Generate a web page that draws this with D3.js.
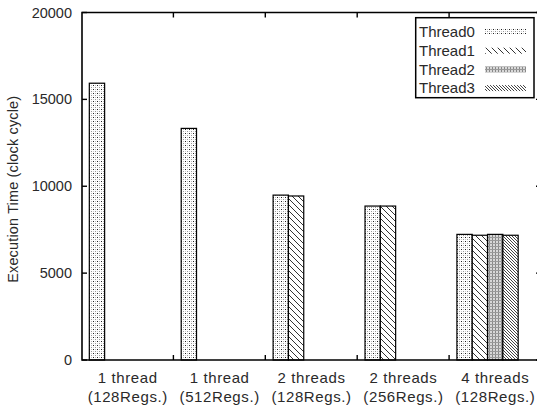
<!DOCTYPE html>
<html><head><meta charset="utf-8">
<script src="https://cdn.jsdelivr.net/npm/d3@7"></script>
<style>
html,body{margin:0;padding:0;background:#fff;}
svg{display:block;font-family:"Liberation Sans",Arial,sans-serif;}
</style></head>
<body>
<svg id="chart" width="537" height="406"></svg>
<script>
const categories = ["1 thread\n(128Regs.)","1 thread\n(512Regs.)","2 threads\n(128Regs.)","2 threads\n(256Regs.)","4 threads\n(128Regs.)"];
const seriesNames = ["Thread0","Thread1","Thread2","Thread3"];
const thread0 = [15930, 13330, 9490, 8860, 7230];
const thread1 = [0, 0, 9440, 8860, 7180];
const thread2 = [0, 0, 0, 0, 7230];
const thread3 = [0, 0, 0, 0, 7180];
const yTicks = [0, 5000, 10000, 15000, 20000];
const yLabel = "Execution Time (clock cycle)";

(function(){
const seriesValues = [thread0, thread1, thread2, thread3];
const svg = d3.select("#chart");
const pLeft = 82, pTop = 12.5, pBottom = 360, pRight = 541;

const defs = svg.append("defs");
// Thread0: dots
const p0 = defs.append("pattern").attr("id","pat0").attr("patternUnits","userSpaceOnUse").attr("width",4).attr("height",4);
p0.append("rect").attr("width",4).attr("height",4).attr("fill","#fff");
p0.append("rect").attr("x",1).attr("y",1).attr("width",1).attr("height",1).attr("fill","#222");
p0.append("rect").attr("x",3).attr("y",1).attr("width",1).attr("height",1).attr("fill","#bbb");
p0.append("rect").attr("x",1).attr("y",3).attr("width",1).attr("height",1).attr("fill","#ccc");
p0.append("rect").attr("x",3).attr("y",3).attr("width",1).attr("height",1).attr("fill","#999");
// Thread1: sparse backslash lines
const p1 = defs.append("pattern").attr("id","pat1").attr("patternUnits","userSpaceOnUse").attr("width",6).attr("height",6);
p1.append("rect").attr("width",6).attr("height",6).attr("fill","#fff");
p1.append("path").attr("d","M-1,-1 L7,7 M-7,-1 L1,7 M5,-1 L13,7").attr("stroke","#333").attr("stroke-width",1);
// Thread2: dense grid
const p2 = defs.append("pattern").attr("id","pat2").attr("patternUnits","userSpaceOnUse").attr("width",3).attr("height",3);
p2.append("rect").attr("width",3).attr("height",3).attr("fill","#d8d8d8");
p2.append("rect").attr("x",0).attr("y",0).attr("width",1).attr("height",3).attr("fill","#888");
p2.append("rect").attr("x",0).attr("y",0).attr("width",3).attr("height",1).attr("fill","#999");
// Thread3: dense backslash lines
const p3 = defs.append("pattern").attr("id","pat3").attr("patternUnits","userSpaceOnUse").attr("width",3).attr("height",3);
p3.append("rect").attr("width",3).attr("height",3).attr("fill","#fff");
p3.append("path").attr("d","M-1,-1 L4,4 M-4,-1 L1,4 M2,-1 L7,4").attr("stroke","#444").attr("stroke-width",1);
const fills = ["url(#pat0)","url(#pat1)","url(#pat2)","url(#pat3)"];

const x = d3.scaleBand().domain(categories).range([81.5, 81.5 + 5*91.9]).paddingInner(0).paddingOuter(0);
const y = d3.scaleLinear().domain([0, 20000]).range([pBottom, pTop]);
const bw = x.bandwidth();
const barW = bw / 6;
const barOff = bw * 0.085;

// bars
seriesValues.forEach((vals, j) => {
  svg.append("g").selectAll("rect").data(categories.map((c,i)=>({c, v: vals[i]})).filter(d=>d.v>0))
    .join("rect")
    .attr("x", d => x(d.c) + barOff + j*barW)
    .attr("y", d => y(d.v))
    .attr("width", barW)
    .attr("height", d => y(0) - y(d.v))
    .attr("fill", fills[j])
    .attr("stroke", "#000")
    .attr("stroke-width", 1.2);
});

// frame
const frame = svg.append("g").attr("stroke","#000").attr("stroke-width",1.6).attr("fill","none");
frame.append("path").attr("d", `M${pRight},${pTop} L${pLeft},${pTop} L${pLeft},${pBottom} L${pRight},${pBottom} L${pRight},${pTop}`);

// y ticks
const tickG = svg.append("g").attr("stroke","#000").attr("stroke-width",1.4);
yTicks.forEach(t => {
  tickG.append("line").attr("x1", pLeft).attr("x2", pLeft+5).attr("y1", y(t)).attr("y2", y(t));
  tickG.append("line").attr("x1", pRight-5).attr("x2", pRight).attr("y1", y(t)).attr("y2", y(t));
});
svg.append("g").selectAll("text").data(yTicks).join("text")
  .attr("x", 72).attr("y", d => y(d)).attr("dy","0.35em")
  .attr("text-anchor","end").attr("font-size",14.5).attr("fill","#2a2a2a")
  .text(d => d);

// x ticks at band boundaries
categories.slice(1).forEach(c => {
  const xx = x(c);
  tickG.append("line").attr("x1", xx).attr("x2", xx).attr("y1", pBottom).attr("y2", pBottom-5);
  tickG.append("line").attr("x1", xx).attr("x2", xx).attr("y1", pTop).attr("y2", pTop+5);
});

// x labels
const xl = svg.append("g").selectAll("text").data(categories).join("text")
  .attr("text-anchor","middle").attr("font-size",15).attr("letter-spacing","0.6px").attr("fill","#2a2a2a");
xl.each(function(c){
  const lines = c.split("\n");
  const t = d3.select(this);
  lines.forEach((ln,k)=>{
    t.append("tspan").attr("x", x(c) + bw/2 + 0.3).attr("y", 383 + k*18.5).text(ln);
  });
});

// y label
svg.append("text").attr("transform",`translate(18,${(pTop+pBottom)/2+3}) rotate(-90)`)
  .attr("text-anchor","middle").attr("font-size",14.5).attr("letter-spacing","0.15px").attr("fill","#2a2a2a").text(yLabel);

// legend
const lg = svg.append("g");
lg.append("rect").attr("x",415.7).attr("y",17.7).attr("width",118.3).attr("height",80)
  .attr("fill","#fff").attr("stroke","#000").attr("stroke-width",1.5);
seriesNames.forEach((n,j)=>{
  const cy = 32 + j*18.7;
  lg.append("text").attr("x",419).attr("y",cy).attr("dy","0.35em").attr("font-size",15).attr("fill","#2a2a2a").text(n);
  lg.append("rect").attr("x",485).attr("y",cy-3).attr("width",41).attr("height",6).attr("fill",fills[j]);
});
})();
</script>
</body></html>
